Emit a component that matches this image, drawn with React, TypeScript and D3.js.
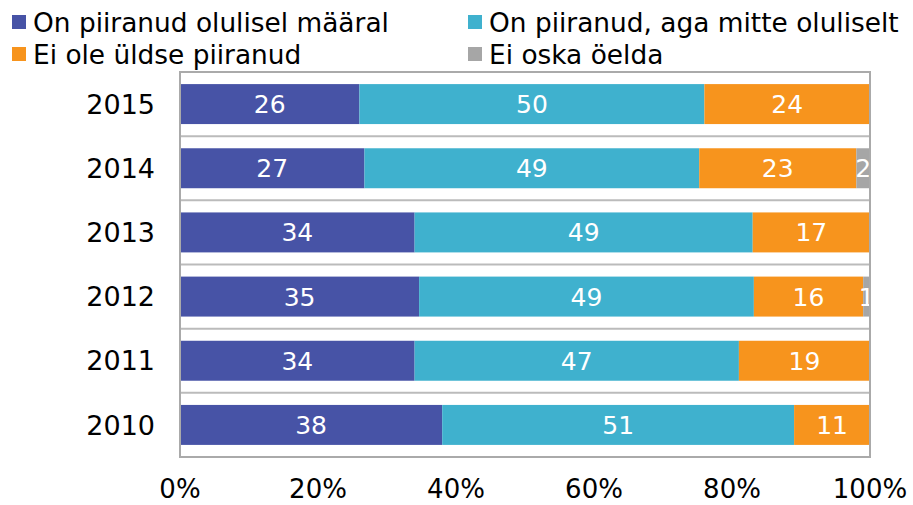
import React from "react";
import * as d3 from "d3";

const years = ["2015", "2014", "2013", "2012", "2011", "2010"];
const series = [
  "On piiranud olulisel määral",
  "On piiranud, aga mitte oluliselt",
  "Ei ole üldse piiranud",
  "Ei oska öelda",
];
const olulisel = [26, 27, 34, 35, 34, 38];
const mitteOluliselt = [50, 49, 49, 49, 47, 51];
const uldseMitte = [24, 23, 17, 16, 19, 11];
const eiOska = [0, 2, 0, 1, 0, 0];
const xTicks = [0, 20, 40, 60, 80, 100];
const colors = ["#4753A6", "#3FB1CE", "#F7941D", "#A6A6A6"];

const width = 913;
const height = 505;
const font = "'DejaVu Sans', Verdana, sans-serif";

const App: React.FC = () => {
  const left = 180;
  const right = 870;
  const top = 72;
  const bottom = 457;

  const x = d3.scaleLinear().domain([0, 100]).range([left, right]);
  const y = d3
    .scaleBand<string>()
    .domain(years)
    .range([top, bottom])
    .paddingInner(0.377)
    .paddingOuter(0.1885);

  const rows = years.map((year, i) => ({
    year,
    vals: [olulisel[i], mitteOluliselt[i], uldseMitte[i], eiOska[i]],
  }));

  // normalize each row to 100% (rounded values don't always add up)
  const stacked = rows.map((r) => {
    const total = d3.sum(r.vals);
    let acc = 0;
    return {
      year: r.year,
      segs: r.vals.map((v, k) => {
        const x0 = (acc / total) * 100;
        acc += v;
        return { k, v, x0, x1: (acc / total) * 100 };
      }),
    };
  });

  const step = y.step();
  const gap = (step - y.bandwidth()) / 2;

  return (
    <svg width={width} height={height} style={{ display: "block", position: "absolute", left: 0, top: 0 }}>
      <defs>
        <clipPath id="plot">
          <rect x={left} y={top} width={right - left} height={bottom - top} />
        </clipPath>
      </defs>
      <rect width={width} height={height} fill="#fff" />

      {/* legend */}
      {series.map((s, i) => {
        const col = i % 2;
        const row = Math.floor(i / 2);
        const lx = col === 0 ? 12 : 468;
        const by = row === 0 ? 32 : 64;
        return (
          <g key={s}>
            <rect x={lx} y={by - 17} width={14} height={14} fill={colors[i]} />
            <text x={lx + 21} y={by} fontFamily={font} fontSize={26.4} fill="#000">
              {s}
            </text>
          </g>
        );
      })}

      {/* separators between categories */}
      {years.slice(1).map((yr) => (
        <line
          key={yr}
          x1={left}
          x2={right}
          y1={(y(yr) as number) - gap}
          y2={(y(yr) as number) - gap}
          stroke="#BBBBBB"
          strokeWidth={2}
        />
      ))}

      <g clipPath="url(#plot)">
        {stacked.map((r) =>
          r.segs
            .filter((s) => s.v > 0)
            .map((s) => (
              <rect
                key={r.year + s.k}
                x={x(s.x0)}
                y={y(r.year)}
                width={x(s.x1) - x(s.x0)}
                height={y.bandwidth()}
                fill={colors[s.k]}
              />
            ))
        )}
        {stacked.map((r) =>
          r.segs
            .filter((s) => s.v > 0)
            .map((s) => (
              <text
                key={"t" + r.year + s.k}
                x={(x(s.x0) + x(s.x1)) / 2}
                y={(y(r.year) as number) + y.bandwidth() / 2}
                dy="0.36em"
                textAnchor="middle"
                fontFamily={font}
                fontSize={25}
                fill="#fff"
              >
                {s.v}
              </text>
            ))
        )}
      </g>

      <rect
        x={left}
        y={top}
        width={right - left}
        height={bottom - top}
        fill="none"
        stroke="#AAAAAA"
        strokeWidth={2}
      />

      {/* year labels */}
      {years.map((yr) => (
        <text
          key={yr}
          x={155}
          y={(y(yr) as number) + y.bandwidth() / 2}
          dy="0.36em"
          textAnchor="end"
          fontFamily={font}
          fontSize={27}
          fill="#000"
        >
          {yr}
        </text>
      ))}

      {/* x axis ticks */}
      {xTicks.map((t) => (
        <text
          key={t}
          x={x(t)}
          y={498}
          textAnchor="middle"
          fontFamily={font}
          fontSize={26}
          fill="#000"
        >
          {t}%
        </text>
      ))}
    </svg>
  );
};

export default App;
